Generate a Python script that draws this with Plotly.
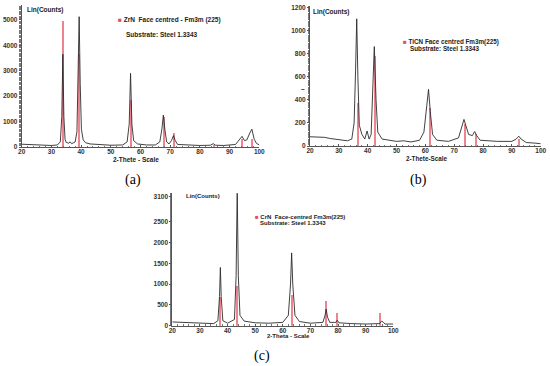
import plotly.graph_objects as go

W, H = 550, 366

# ---------------- data ----------------
# (a) ZrN
a_x = [20, 22, 25, 28, 30, 32, 33, 33.5, 33.85, 34.2, 34.6, 35, 35.8, 36.3, 36.8, 37.5, 38, 38.6, 39.0, 39.35, 39.7, 40.1,
       40.7, 41.5, 43, 46, 50, 54, 55.5, 56.2, 56.65, 57.1, 57.7, 59, 62, 65, 66.5, 67.2, 67.7, 68.2, 68.8, 69.6, 70.4,
       71.1, 71.7, 72.5, 76, 80, 83.5, 84.5, 85.3, 88, 92, 93.5, 94.2, 95, 95.8, 96.8, 97.5, 98.3, 99, 100]
a_y = [110, 100, 90, 70, 60, 80, 200, 1200, 3650, 1200, 300, 180, 150, 200, 130, 170, 200, 600, 2500, 5130, 2500, 700,
       280, 170, 120, 90, 70, 80, 200, 900, 2900, 900, 250, 120, 80, 80, 200, 700, 1260, 700, 200, 120, 250,
       450, 250, 100, 70, 60, 70, 130, 70, 60, 100, 300, 420, 250, 280, 550, 700, 300, 150, 80]
a_ref_x = [33.9, 39.4, 56.7, 67.8, 71.3, 84.6, 94.3, 97.6]
a_ref_y = [4950, 3650, 1850, 1200, 550, 80, 300, 300]

# (b) TiCN
b_x = [20, 22, 24, 25, 27, 29, 30, 32, 33, 34.5, 35.3, 35.8, 36.2, 36.6, 37.1, 38, 39, 39.8, 40.5, 41.2, 41.7, 42.3,
       42.9, 43.5, 45, 48, 50, 52.5, 55, 58, 59.5, 60.5, 61.1, 61.7, 62.5, 64, 68, 71.5, 72.5, 73.4, 74, 75, 76.3,
       77.1, 77.8, 79, 85, 90, 91.5, 92.4, 93.2, 95, 98, 100]
b_y = [80, 78, 72, 75, 65, 58, 55, 48, 45, 60, 200, 650, 1100, 600, 180, 100, 60, 130, 60, 100, 400, 860,
       400, 120, 60, 45, 40, 45, 35, 50, 120, 350, 490, 300, 100, 50, 40, 70, 150, 230, 180, 100, 90,
       125, 90, 50, 40, 40, 60, 85, 60, 30, 25, 20]
b_ref_x = [36.7, 42.6, 61.5, 73.6, 77.5, 92.5]
b_ref_y = [370, 780, 330, 190, 100, 60]

# (c) CrN
c_x = [20, 25, 30, 35, 36.5, 37.1, 37.4, 37.7, 38.3, 40, 42.5, 43.1, 43.5, 43.9, 44.5, 46, 50, 55, 60, 62, 62.8,
       63.2, 63.6, 64.4, 66, 70, 74.5, 75.3, 75.7, 76.2, 77, 79.2, 79.7, 80.3, 85, 90, 95, 95.8, 96.4, 97, 100]
c_y = [90, 80, 60, 50, 120, 700, 1400, 700, 120, 60, 150, 1200, 3250, 1200, 250, 110, 70, 60, 80, 250, 1000,
       1750, 1000, 250, 100, 60, 80, 250, 400, 200, 80, 80, 130, 70, 50, 40, 50, 110, 80, 40, 40]
c_ref_x = [37.4, 43.5, 63.2, 75.5, 79.7, 95.2]
c_ref_y = [700, 950, 750, 600, 300, 300]

x_ticks = [20, 30, 40, 50, 60, 70, 80, 90, 100]
a_ticks = [0, 1000, 2000, 3000, 4000, 5000]
b_ticks = [0, 200, 400, 600, 800, 1000, 1200]
c_ticks = [0, 500, 1000, 1500, 2000, 2500, 3100]

# ---------------- figure ----------------
def px(x): return x / W
def py(y): return 1 - y / H

REF = "rgba(230,80,95,0.7)"
LINE = "#2b2b2b"
FONT = "Liberation Sans"

fig = go.Figure()
panels = [
    ("", a_x, a_y, a_ref_x, a_ref_y),
    ("2", b_x, b_y, b_ref_x, b_ref_y),
    ("3", c_x, c_y, c_ref_x, c_ref_y),
]
for s, xs, ys, rx, ry in panels:
    fig.add_trace(go.Bar(x=rx, y=ry, width=0.7, marker=dict(color=REF, line=dict(width=0)),
                         xaxis="x" + s, yaxis="y" + s, showlegend=False))
    fig.add_trace(go.Scatter(x=xs, y=ys, mode="lines", line=dict(color=LINE, width=0.9),
                             xaxis="x" + s, yaxis="y" + s, showlegend=False))

tickfont = dict(size=6.5, family=FONT, color="#333", weight="bold")

def xax(dom, anchor):
    return dict(domain=dom, range=[20, 100], tickvals=x_ticks, anchor=anchor, showgrid=False, zeroline=False,
                automargin=False,
                showline=True, linecolor="#555", linewidth=1, ticks="inside", ticklen=2, tickcolor="#555",
                minor=dict(ticks="inside", ticklen=1.5, dtick=2, tickcolor="#777"),
                ticklabelstandoff=-2,
                tickfont=tickfont, fixedrange=True)

def yax(dom, rng, tv, anchor):
    return dict(domain=dom, range=rng, tickvals=tv, anchor=anchor, showgrid=False, zeroline=False,
                automargin=False,
                showline=True, linecolor="#555", linewidth=1, ticks="outside", ticklen=2, tickcolor="#555",
                minor=dict(ticks="outside", ticklen=1.5, nticks=40, tickcolor="#777"),
                tickfont=tickfont, fixedrange=True)

fig.update_layout(
    width=W, height=H, margin=dict(l=0, r=0, t=0, b=0, autoexpand=False),
    paper_bgcolor="white", plot_bgcolor="white", bargap=0,
    xaxis=xax([px(21.7), px(259.3)], "y"),
    yaxis=yax([py(147), py(5)], [0, 5590], a_ticks, "x"),
    xaxis2=xax([px(310), px(540.7)], "y2"),
    yaxis2=yax([py(146), py(6)], [0, 1211], b_ticks, "x2"),
    xaxis3=xax([px(172.3), px(393.3)], "y3"),
    yaxis3=yax([py(325.7), py(193.3)], [0, 3183], c_ticks, "x3"),
)

def note(text, x, y, size=6.5, anchor="left", weight="bold", family=FONT, color="#222"):
    fig.add_annotation(text=text, x=px(x), y=py(y), xref="paper", yref="paper", showarrow=False,
                       xanchor=anchor, yanchor="middle",
                       font=dict(size=size, family=family, color=color, weight=weight))

sq = "<span style='color:#e05060'>■</span> "
# panel a
note("Lin(Counts)", 25, 10, 6.5)
note(sq + "ZrN  Face centred - Fm3m (225)", 115.5, 20, 6.5)
note("Substrate: Steel 1.3343", 124, 34.7, 6.5)
note("2-Thete - Scale", 136, 159.5, 6.5, "center")
note("(a)", 133, 180, 14, "center", "normal", "Liberation Serif", "black")
# panel b
note("Lin(Counts)", 311, 12.3, 6.5)
note(sq + "TiCN Face centred Fm3m(225)", 401, 41.7, 6.3)
note("Substrate: Steel 1.3343", 407.7, 48.7, 6.3)
note("2-Thete-Scale", 426, 158.5, 6.3, "center")
note("–", 302.5, 88, 6.5, "center")
note("(b)", 418.3, 180, 14, "center", "normal", "Liberation Serif", "black")
# panel c
note("Lin(Counts)", 184, 196, 6.0)
note(sq + "CrN  Face-centred Fm3m(225)", 252.5, 217.3, 6.0)
note("Substrate: Steel 1.3343", 258.3, 223.5, 6.0)
note("2-Theta - Scale", 288.5, 336, 6.0, "center")
note("(c)", 261.7, 356, 14, "center", "normal", "Liberation Serif", "black")

fig.write_html("out.html", config={"displayModeBar": False, "staticPlot": True},
               post_script="document.body.style.margin='0px';document.body.style.overflow='hidden';")
